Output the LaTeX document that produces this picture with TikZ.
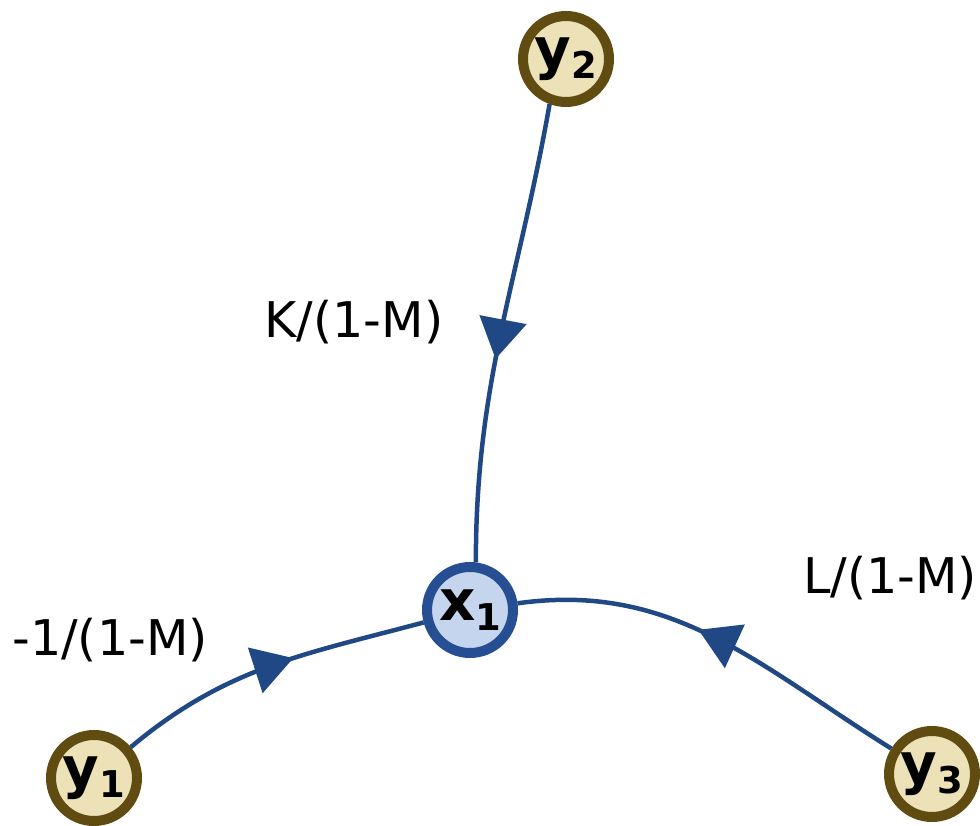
\documentclass[tikz,border=0pt]{standalone}
\usepackage{fontspec}
\setmainfont{DejaVu Sans}
\usepackage{tikz}
\usetikzlibrary{arrows.meta,decorations.markings}

\definecolor{sandfill}{RGB}{236,225,183}
\definecolor{sanddraw}{RGB}{96,76,16}
\definecolor{bluefill}{RGB}{196,213,237}
\definecolor{bluedraw}{RGB}{38,78,146}
\definecolor{edgeblue}{RGB}{32,72,132}

\newcommand{\varlab}[2]{\bfseries #1\raisebox{-0.2cm}{\fontsize{21}{21}\selectfont #2}}

\begin{document}
\begin{tikzpicture}[
    x=0.02cm, y=0.02cm,
    var/.style={circle, line width=0.2cm, minimum size=1.72cm, inner sep=0pt, font=\fontsize{32}{32}\selectfont},
    ynode/.style={var, draw=sanddraw, fill=sandfill},
    xnode/.style={var, draw=bluedraw, fill=bluefill},
    gain/.style={font=\fontsize{28}{28}\selectfont},
    flow/.style={draw=edgeblue, line width=0.09cm,
        postaction={decorate, decoration={markings,
            mark=at position #1 with {\arrow[edgeblue]{Triangle[length=0.8cm,width=0.94cm]}}}}}
]
\useasboundingbox (0,0) rectangle (980,825);

% Variables
\node[xnode] (x1) at (470,215) {\varlab{x}{1}};
\node[ynode] (y1) at (94,47) {\varlab{y}{1}};
\node[ynode] (y2) at (566,766) {\varlab{y}{2}};
\node[ynode] (y3) at (932,51) {\varlab{y}{3}};

% Gains
\node[gain] (gk) at (354,503) {K/(1-M)};
\node[gain] (gl) at (890,247) {L/(1-M)};
\node[gain] (gm) at (110,185) {-1/(1-M)};

% Connections
\draw[flow=0.56] (y2.-110) to[out=-100, in=90] (x1.83);
\draw[flow=0.58] (y1) to[out=40, in=195] (x1);
\draw[flow=0.55] (y3) to[out=148, in=8] (x1);

\end{tikzpicture}
\end{document}
